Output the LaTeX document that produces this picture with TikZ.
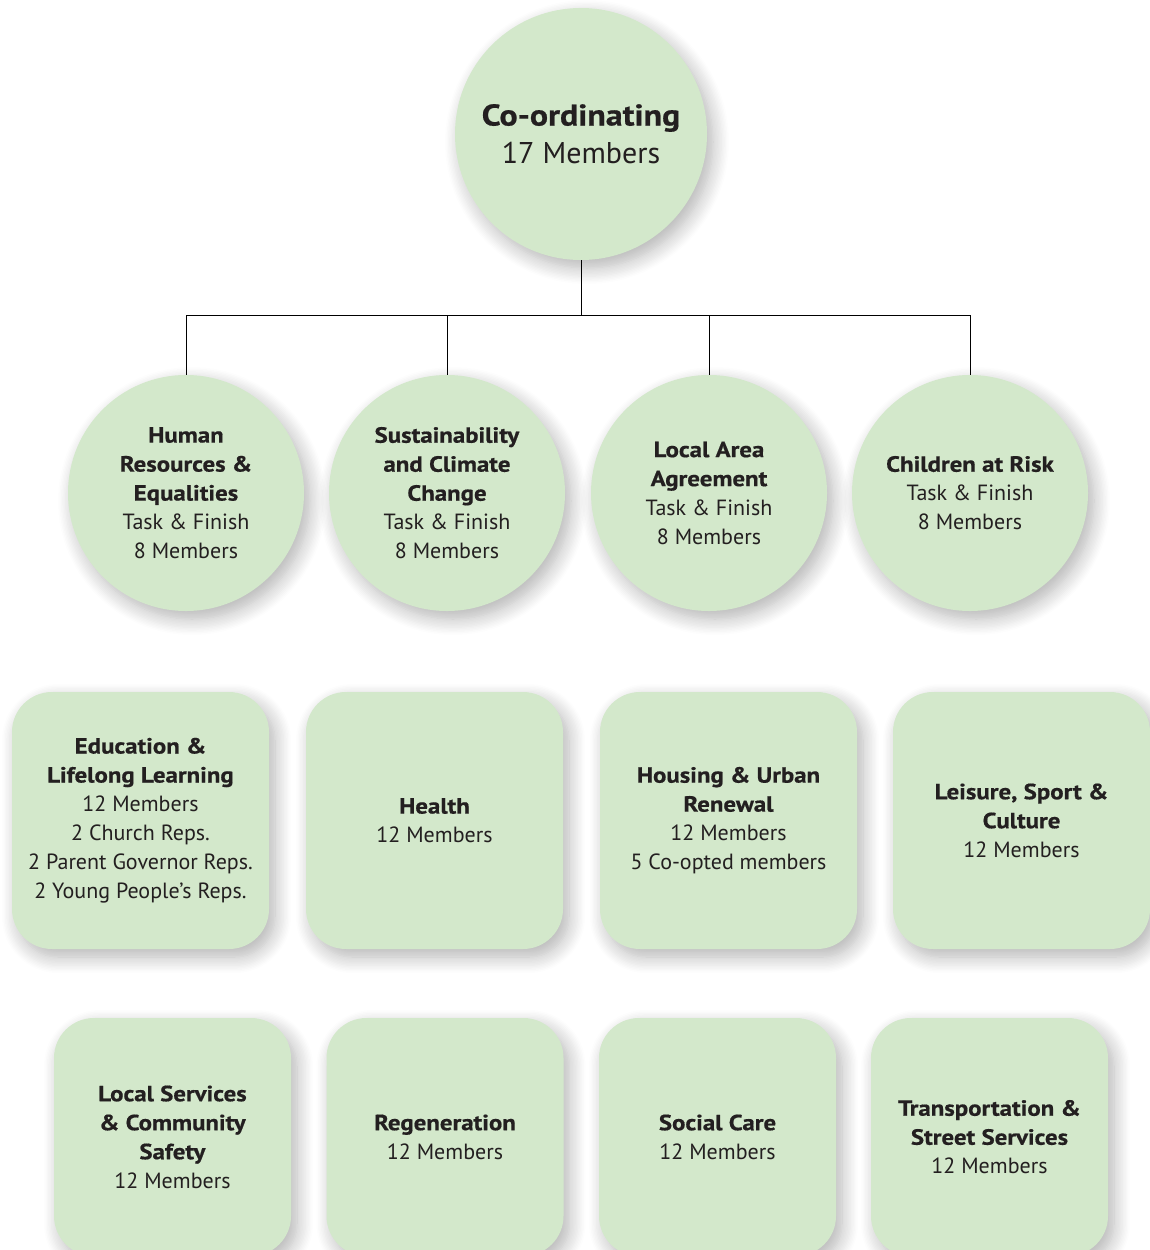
\documentclass[tikz,border=0pt]{standalone}
\usepackage{fontspec}
\setmainfont{PT Sans}[BoldFeatures={FakeStretch=1.13,FakeBold=0.6}]
\usetikzlibrary{shadows.blur}
\definecolor{boxgreen}{RGB}{211,232,203}
\definecolor{txt}{RGB}{35,31,32}
\begin{document}
\begin{tikzpicture}[x=1pt,y=-1pt,
  sh/.style={blur shadow={shadow xshift=6pt, shadow yshift=-8pt, shadow blur radius=16pt, shadow blur steps=12, shadow opacity=30}},
  base/.style={fill=boxgreen, inner sep=0pt, align=center, text=txt, font=\fontsize{22}{29}\selectfont, sh},
  topcirc/.style={base, circle, minimum size=252pt, font=\fontsize{30}{38}\selectfont},
  subcirc/.style={base, circle, minimum size=236pt},
  bigbox/.style={base, rectangle, rounded corners=40pt, minimum width=257pt, minimum height=257pt},
  smallbox/.style={base, rectangle, rounded corners=40pt, minimum width=237pt, minimum height=238pt},
  conn/.style={draw=black, line width=1pt}
]
\useasboundingbox (0,0) rectangle (1150,1250);
\node[topcirc] (top) at (581,134) {\textbf{Co-ordinating}\\17 Members};

\node[subcirc] (h1) at (186,493) {\textbf{Human}\\\textbf{Resources \&}\\\textbf{Equalities}\\Task \& Finish\\8 Members};
\node[subcirc] (h2) at (447,493) {\textbf{Sustainability}\\\textbf{and Climate}\\\textbf{Change}\\Task \& Finish\\8 Members};
\node[subcirc] (h3) at (709,493) {\textbf{Local Area}\\\textbf{Agreement}\\Task \& Finish\\8 Members};
\node[subcirc] (h4) at (970,493) {\textbf{Children at Risk}\\Task \& Finish\\8 Members};

\node[bigbox] (b1) at (140.5,820.5) {\textbf{Education \&}\\\textbf{Lifelong Learning}\\12 Members\\2 Church Reps.\\2 Parent Governor Reps.\\2 Young People’s Reps.};
\node[bigbox] (b2) at (434.5,820.5) {\textbf{Health}\\12 Members};
\node[bigbox] (b3) at (728.5,820.5) {\textbf{Housing \& Urban}\\\textbf{Renewal}\\12 Members\\5 Co-opted members};
\node[bigbox] (b4) at (1021.5,820.5) {\textbf{Leisure, Sport \&}\\\textbf{Culture}\\12 Members};

\node[smallbox] (c1) at (172.5,1137) {\textbf{Local Services}\\\textbf{\& Community}\\\textbf{Safety}\\12 Members};
\node[smallbox] (c2) at (445,1137) {\textbf{Regeneration}\\12 Members};
\node[smallbox] (c3) at (717.5,1137) {\textbf{Social Care}\\12 Members};
\node[smallbox] (c4) at (989.5,1137) {\textbf{Transportation \&}\\\textbf{Street Services}\\12 Members};

\coordinate (busL) at (186,315);
\coordinate (busR) at (970,315);
\draw[conn] (busL) -- (busR);
\draw[conn] (top.south) -- (top.south |- busL);
\foreach \n in {h1,h2,h3,h4} \draw[conn] (\n.north) -- (\n.north |- busL);
\end{tikzpicture}
\end{document}
